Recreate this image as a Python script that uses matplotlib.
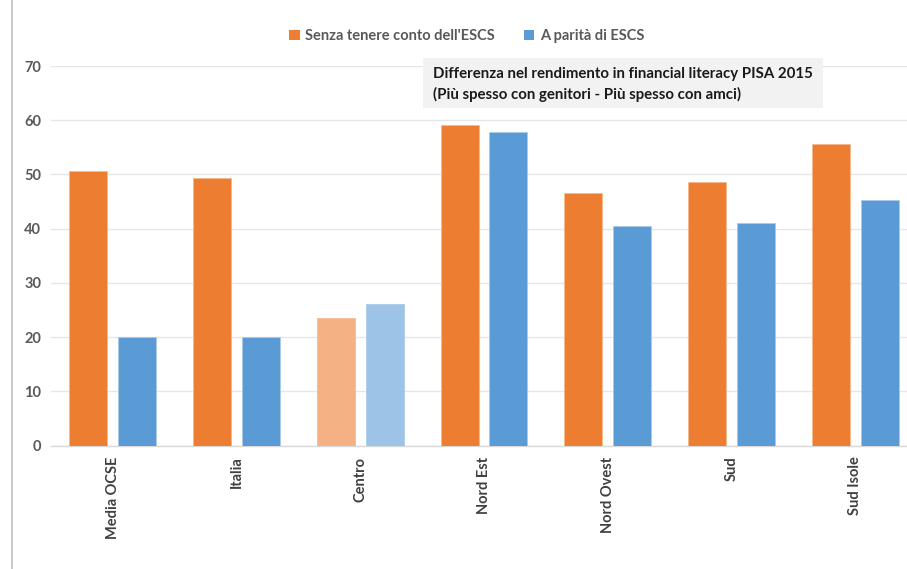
import matplotlib
matplotlib.use("Agg")
import matplotlib.pyplot as plt
import numpy as np
from matplotlib.patches import Patch
from matplotlib.lines import Line2D

plt.rcParams['font.family'] = ['Lato', 'DejaVu Sans']

categories = ["Media OCSE", "Italia", "Centro", "Nord Est", "Nord Ovest", "Sud", "Sud Isole"]
senza_escs = [50.7, 49.3, 23.6, 59.2, 46.6, 48.6, 55.6]
parita_escs = [20.0, 20.0, 26.1, 57.8, 40.4, 41.1, 45.3]
series_labels = ["Senza tenere conto dell'ESCS", "A parità di ESCS"]
yticks = [0, 10, 20, 30, 40, 50, 60, 70]
note_lines = ["Differenza nel rendimento in financial literacy PISA 2015",
              "(Più spesso con genitori - Più spesso con amci)"]

orange, blue = "#ED7D31", "#5B9BD5"
orange_light, blue_light = "#F4B183", "#9DC3E6"
muted = {"Centro"}

W, H = 907, 569
fig = plt.figure(figsize=(W / 100, H / 100), dpi=100)
ax = fig.add_axes([51 / W, (H - 445.5) / H, (917 - 51) / W, (445.5 - 66) / H])

x = np.arange(len(categories))
bw = 0.307
off = 0.197
oc = [orange_light if c in muted else orange for c in categories]
bc = [blue_light if c in muted else blue for c in categories]
ax.bar(x - off, senza_escs, bw, color=oc, edgecolor="#F6B98E", linewidth=0.6, zorder=3)
ax.bar(x + off, parita_escs, bw, color=bc, edgecolor="#A9CBEA", linewidth=0.6, zorder=3)

ax.set_xlim(-0.5, len(categories) - 0.5)
ax.set_ylim(0, 70)
ax.set_yticks(yticks)
ax.set_yticklabels([str(t) for t in yticks], fontsize=10.5, fontweight="bold", color="#595959")
ax.set_xticks(x)
ax.set_xticklabels(categories, rotation=90, fontsize=10.5, fontweight="bold", color="#404040",
                   va="top", ha="center")
ax.tick_params(axis="both", length=0)
ax.tick_params(axis="y", pad=7)
ax.tick_params(axis="x", pad=8)
ax.grid(axis="y", color="#E6E6E6", linewidth=1.0, zorder=0)
ax.set_axisbelow(True)
for s in ["top", "right", "left"]:
    ax.spines[s].set_visible(False)
ax.spines["bottom"].set_color("#D9D9D9")
ax.spines["bottom"].set_linewidth(1.0)

# note box
fig.patches.append(plt.Rectangle((423 / W, (H - 108) / H), 400 / W, 50 / H,
                                 transform=fig.transFigure, facecolor="#F2F2F2",
                                 edgecolor="none", zorder=5))
fig.text(433 / W, (H - 74) / H, note_lines[0], fontsize=10.8, fontweight="bold",
         color="#1a1a1a", va="center", ha="left", zorder=6)
fig.text(433 / W, (H - 94) / H, note_lines[1], fontsize=10.8, fontweight="bold",
         color="#1a1a1a", va="center", ha="left", zorder=6)

# legend
handles = [Patch(facecolor=orange, edgecolor="none"), Patch(facecolor=blue, edgecolor="none")]
leg = fig.legend(handles, series_labels, loc="center", bbox_to_anchor=(467 / W, (H - 36) / H),
                 ncol=2, frameon=False, handlelength=0.7, handleheight=0.7, handletextpad=0.4,
                 columnspacing=2.0, prop={"weight": "bold", "size": 10.5})
for t in leg.get_texts():
    t.set_color("#595959")

# left frame line
fig.add_artist(Line2D([11.5 / W, 11.5 / W], [0, 1], transform=fig.transFigure,
                      color="#BFBFBF", linewidth=1.2))

fig.savefig("out.png", dpi=100)
